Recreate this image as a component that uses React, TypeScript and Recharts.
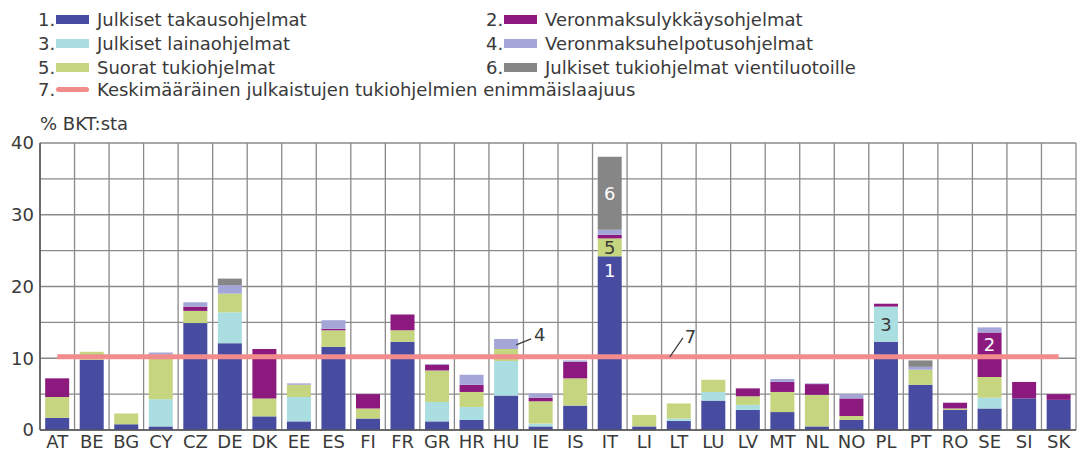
import {
  Bar,
  CartesianGrid,
  ComposedChart,
  LabelList,
  Line,
  XAxis,
  YAxis,
} from "recharts";

const countries = [
  "AT", "BE", "BG", "CY", "CZ", "DE", "DK", "EE", "ES", "FI",
  "FR", "GR", "HR", "HU", "IE", "IS", "IT", "LI", "LT", "LU",
  "LV", "MT", "NL", "NO", "PL", "PT", "RO", "SE", "SI", "SK",
];

// 1. Julkiset takausohjelmat
const takaus = [1.7, 9.8, 0.8, 0.5, 14.9, 12.1, 1.9, 1.2, 11.6, 1.6, 12.3, 1.2, 1.4, 4.8, 0.5, 3.4, 24.2, 0.5, 1.25, 4.1, 2.8, 2.5, 0.5, 1.4, 12.3, 6.3, 2.8, 3.0, 4.4, 4.2];
// 3. Julkiset lainaohjelmat
const laina = [0, 0, 0, 3.8, 0, 4.3, 0, 3.4, 0, 0, 0, 2.7, 1.8, 4.8, 0.4, 0, 0, 0, 0.35, 1.2, 0.7, 0, 0, 0, 4.9, 0, 0, 1.5, 0, 0];
// 5. Suorat tukiohjelmat
const suorat = [2.9, 1.1, 1.5, 6.2, 1.7, 2.6, 2.5, 1.7, 2.3, 1.4, 1.6, 4.4, 2.1, 1.7, 3.1, 3.8, 2.5, 1.6, 2.1, 1.7, 1.2, 2.8, 4.4, 0.55, 0, 2.1, 0.2, 2.9, 0, 0];
// 2. Veronmaksulykkäysohjelmat
const lykkays = [2.6, 0, 0, 0, 0.6, 0, 6.9, 0, 0.2, 2.0, 2.2, 0.8, 1.0, 0, 0.5, 2.3, 0.5, 0, 0, 0, 1.1, 1.4, 1.5, 2.45, 0.4, 0, 0.8, 6.2, 2.3, 0.8];
// 4. Veronmaksuhelpotusohjelmat
const helpotus = [0, 0, 0, 0.3, 0.6, 1.2, 0, 0.2, 1.2, 0, 0, 0.1, 1.4, 1.4, 0.6, 0.2, 0.7, 0, 0, 0, 0, 0.4, 0.1, 0.6, 0, 0.4, 0, 0.7, 0, 0];
// 6. Julkiset tukiohjelmat vientiluotoille
const vienti = [0, 0, 0, 0, 0, 0.9, 0, 0, 0, 0, 0, 0, 0, 0, 0, 0, 10.2, 0, 0, 0, 0, 0, 0, 0, 0, 0.9, 0, 0, 0, 0];
// 7. Keskimääräinen julkaistujen tukiohjelmien enimmäislaajuus
const keskiarvo = 10.2;

const yTicks = [0, 5, 10, 15, 20, 25, 30, 35, 40];

const C1 = "#474ca0";
const C2 = "#8c1a7e";
const C3 = "#abdee1";
const C4 = "#a3a6d7";
const C5 = "#c6d57f";
const C6 = "#868686";
const C7 = "#f28c8c";
const TEXT = "#3a3a3a";
const FONT = "'DejaVu Sans', sans-serif";

const data = countries.map((c, i) => ({
  maa: c,
  s1: takaus[i],
  s3: laina[i],
  s5: suorat[i],
  s2: lykkays[i],
  s4: helpotus[i],
  s6: vienti[i],
  avg: keskiarvo,
}));

const legendItems = [
  { n: "1.", label: "Julkiset takausohjelmat", color: C1, col: 0, row: 0 },
  { n: "2.", label: "Veronmaksulykkäysohjelmat", color: C2, col: 1, row: 0 },
  { n: "3.", label: "Julkiset lainaohjelmat", color: C3, col: 0, row: 1 },
  { n: "4.", label: "Veronmaksuhelpotusohjelmat", color: C4, col: 1, row: 1 },
  { n: "5.", label: "Suorat tukiohjelmat", color: C5, col: 0, row: 2 },
  { n: "6.", label: "Julkiset tukiohjelmat vientiluotoille", color: C6, col: 1, row: 2 },
  { n: "7.", label: "Keskimääräinen julkaistujen tukiohjelmien enimmäislaajuus", color: C7, col: 0, row: 3, line: true },
];

const rowY = [19, 43, 67, 89];

// zero-valued segments get no label entry, so count only the non-zero ones
function labelIndex(values: number[], country: string) {
  const i = countries.indexOf(country);
  return values.slice(0, i).filter((v) => v > 0).length;
}

// label inside a segment, only on one country
function segLabel(values: number[], country: string, text: string, fill: string, dy: number | "mid") {
  const idx = labelIndex(values, country);
  return (props: any) => {
    if (props.index !== idx) return null;
    const { x, y, width, height } = props;
    const ty = dy === "mid" ? y + height / 2 : y + dy;
    return (
      <text x={x + width / 2} y={ty} fill={fill} fontSize={18} fontFamily={FONT}
        textAnchor="middle" dominantBaseline="central">
        {text}
      </text>
    );
  };
}

const huIdx = labelIndex(helpotus, "HU");
function huLabel(props: any) {
  if (props.index !== huIdx) return null;
  const { x, y, width, height } = props;
  const x0 = x + width - 2;
  const y0 = y + height * 0.6;
  return (
    <g>
      <line x1={x0} y1={y0} x2={x0 + 15} y2={y0 - 6} stroke={TEXT} strokeWidth={1.2} />
      <text x={x0 + 18} y={y0 - 10} fill={TEXT} fontSize={18} fontFamily={FONT}
        dominantBaseline="central">4</text>
    </g>
  );
}

function avgLabel(props: any) {
  if (props.index !== countries.indexOf("LT")) return null;
  const { x, y } = props;
  const x0 = x - 9;
  return (
    <g>
      <line x1={x0} y1={y} x2={x0 + 13} y2={y - 19} stroke={TEXT} strokeWidth={1.2} />
      <text x={x0 + 15} y={y - 20} fill={TEXT} fontSize={18} fontFamily={FONT}
        dominantBaseline="central">7</text>
    </g>
  );
}

export default function App() {
  return (
    <div style={{ position: "absolute", left: 0, top: 0, width: 1080, height: 452, background: "#fff", fontFamily: FONT, color: TEXT }}>
      {legendItems.map((it) => {
        const left = it.col === 0 ? 38 : 486;
        return (
          <div key={it.n} style={{ position: "absolute", left, top: rowY[it.row] - 11, height: 22, display: "flex", alignItems: "center", fontSize: 18, whiteSpace: "nowrap" }}>
            <span style={{ width: 18 }}>{it.n}</span>
            <span style={{ display: "inline-block", width: 33, height: it.line ? 5 : 9, borderRadius: it.line ? 3 : 0, background: it.color, marginRight: 8 }} />
            <span>{it.label}</span>
          </div>
        );
      })}
      <div style={{ position: "absolute", left: 40, top: 113, fontSize: 18 }}>% BKT:sta</div>
      <div style={{ position: "absolute", left: 0, top: 0 }}>
        <ComposedChart width={1080} height={452} data={data}
          margin={{ top: 143, right: 4, bottom: 0, left: 0 }}
          barCategoryGap="15%">
          <CartesianGrid stroke="#8a8a8a" strokeWidth={1.3}
            verticalCoordinatesGenerator={({ offset }: any) =>
              countries.map((_, i) => offset.left + (i * offset.width) / countries.length).concat(offset.left + offset.width)
            } />
          <XAxis dataKey="maa" height={22} tickLine={false} interval={0}
            axisLine={{ stroke: "#555", strokeWidth: 1.5 }}
            tick={{ fill: TEXT, fontSize: 18, fontFamily: FONT, dy: -3 }} />
          <YAxis width={40} domain={[0, 40]} ticks={yTicks} tickLine={false}
            axisLine={{ stroke: "#555", strokeWidth: 1.5 }}
            tickFormatter={(v: number) => (v % 10 === 0 ? String(v) : "")}
            tick={{ fill: TEXT, fontSize: 18, fontFamily: FONT, dx: 2 }} />
          <Bar dataKey="s1" stackId="a" fill={C1} isAnimationActive={false}>
            <LabelList dataKey="s1" content={segLabel(takaus, "IT", "1", "#fff", 14)} />
          </Bar>
          <Bar dataKey="s3" stackId="a" fill={C3} isAnimationActive={false}>
            <LabelList dataKey="s3" content={segLabel(laina, "PL", "3", TEXT, "mid")} />
          </Bar>
          <Bar dataKey="s5" stackId="a" fill={C5} isAnimationActive={false}>
            <LabelList dataKey="s5" content={segLabel(suorat, "IT", "5", TEXT, "mid")} />
          </Bar>
          <Bar dataKey="s2" stackId="a" fill={C2} isAnimationActive={false}>
            <LabelList dataKey="s2" content={segLabel(lykkays, "SE", "2", "#fff", 12)} />
          </Bar>
          <Bar dataKey="s4" stackId="a" fill={C4} isAnimationActive={false}>
            <LabelList dataKey="s4" content={huLabel} />
          </Bar>
          <Bar dataKey="s6" stackId="a" fill={C6} isAnimationActive={false}>
            <LabelList dataKey="s6" content={segLabel(vienti, "IT", "6", "#fff", "mid")} />
          </Bar>
          <Line dataKey="avg" stroke={C7} strokeWidth={5} dot={false} isAnimationActive={false}>
            <LabelList dataKey="avg" content={avgLabel} />
          </Line>
        </ComposedChart>
      </div>
    </div>
  );
}
